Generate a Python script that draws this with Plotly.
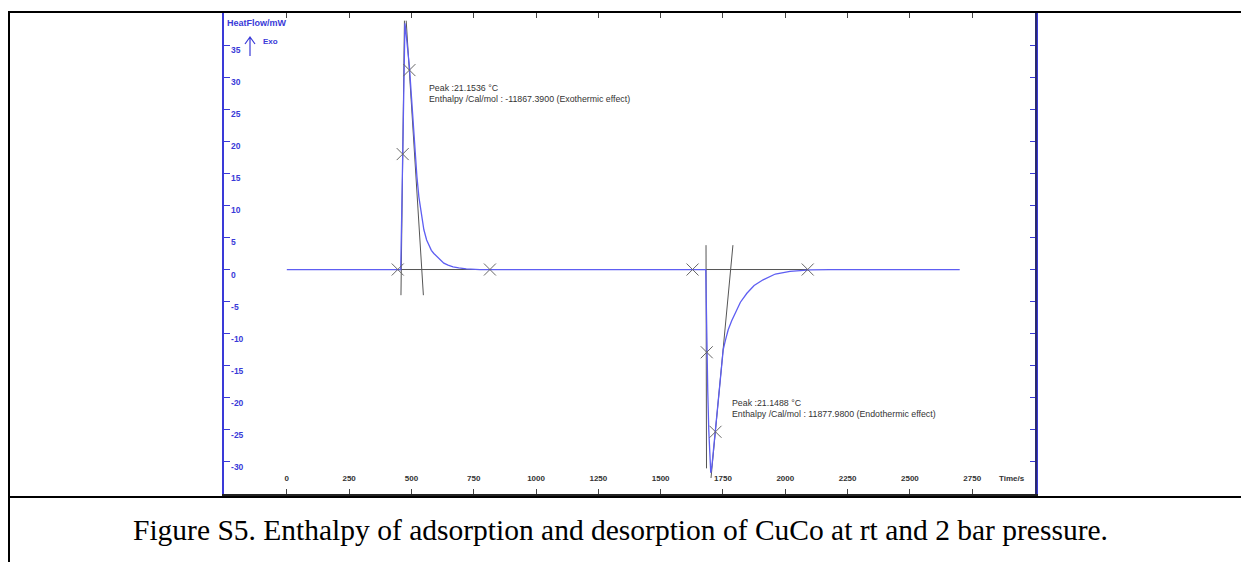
import plotly.graph_objects as go

# ---------------- data ----------------
time_s = [0, 300, 457, 461, 465, 469, 474, 478, 484, 492,
          500, 508, 515, 522, 530, 541, 550, 561, 570, 580,
          590, 602, 615, 630, 647, 667, 690, 720, 775, 1200,
          1681, 1683, 1685, 1689, 1693, 1697, 1701, 1706, 1712, 1720,
          1729, 1738, 1751, 1760, 1771, 1785, 1799, 1820, 1846, 1875,
          1911, 1960, 2019, 2100, 2180, 2700]
heatflow_mw = [0, 0, 0, 8.5, 18, 28, 38.4, 37, 34.5, 31.6,
               27, 22.2, 18, 14.5, 11.3, 8.2, 6.2, 4.6, 3.8, 3.0,
               2.5, 2.0, 1.5, 1.0, 0.7, 0.4, 0.25, 0.1, 0, 0,
               0, -5, -12.9, -19, -25, -29.5, -31.7, -30.5, -28, -24.5,
               -20.5, -17.2, -12.5, -11.0, -9.4, -8.0, -6.8, -5.1, -3.7, -2.5,
               -1.6, -0.7, -0.3, -0.05, 0, 0]

# construction (tangent / baseline) segments
exo_tan1_t, exo_tan1_v = [458, 472], [-4, 38.8]
exo_tan2_t, exo_tan2_v = [479, 548], [38.8, -4]
exo_base_t, exo_base_v = [445, 815], [0, 0]
endo_tan1_t, endo_tan1_v = [1682, 1684], [3.8, -31]
endo_tan2_t, endo_tan2_v = [1790, 1702], [3.8, -32.5]
endo_base_t, endo_base_v = [1628, 2090], [0, 0]

marker_t = [445, 465, 492, 815, 1628, 1685, 1720, 2090]
marker_v = [0, 18, 31.1, 0, 0, -12.9, -25.3, 0]

x_ticks = [0, 250, 500, 750, 1000, 1250, 1500, 1750, 2000, 2250, 2500, 2750]
y_ticks = [-30, -25, -20, -15, -10, -5, 0, 5, 10, 15, 20, 25, 30, 35]

exo_text = ["Peak :21.1536 °C", "Enthalpy /Cal/mol : -11867.3900 (Exothermic effect)"]
endo_text = ["Peak :21.1488 °C", "Enthalpy /Cal/mol : 11877.9800 (Endothermic effect)"]
caption = "Figure S5. Enthalpy of adsorption and desorption of CuCo at rt and 2 bar pressure."

# ---------------- layout geometry ----------------
W, H = 1241, 562
L, R, T, B = 224, 1036, 13, 494


def px(x):
    return (x - L) / (R - L)


def py(y):
    return (B - y) / (B - T)


BLUE = "#5e5ef2"
AXBLUE = "#3a3ad8"
GREY = "#555555"
MARK = "#666666"

fig = go.Figure()

seg_style = dict(mode="lines", line=dict(color=GREY, width=1), hoverinfo="skip", showlegend=False)
for st, sv in [(exo_tan1_t, exo_tan1_v), (exo_tan2_t, exo_tan2_v), (exo_base_t, exo_base_v),
               (endo_tan1_t, endo_tan1_v), (endo_tan2_t, endo_tan2_v), (endo_base_t, endo_base_v)]:
    fig.add_trace(go.Scatter(x=st, y=sv, **seg_style))

fig.add_trace(go.Scatter(x=time_s, y=heatflow_mw, mode="lines",
                         line=dict(color=BLUE, width=1.3), showlegend=False))

fig.add_trace(go.Scatter(x=marker_t, y=marker_v, mode="markers",
                         marker=dict(symbol="x-thin", size=12, line=dict(color=MARK, width=1)),
                         showlegend=False))

fig.update_xaxes(range=[-252, 3006], tickvals=x_ticks, ticktext=[str(v) for v in x_ticks],
                 ticks="inside", ticklen=5, tickcolor="#444444", tickwidth=1,
                 ticklabelposition="inside", ticklabelstandoff=5,
                 tickfont=dict(family="Liberation Sans", size=8, color="#333333", weight="bold"),
                 showline=True, linecolor="#222222", linewidth=1.5, mirror="ticks",
                 showgrid=False, zeroline=False)
fig.update_yaxes(range=[-35, 40], tickvals=y_ticks, ticktext=[str(v) for v in y_ticks],
                 ticks="inside", ticklen=6, tickcolor=AXBLUE, tickwidth=1,
                 ticklabelposition="inside", ticklabelshift=5,
                 tickfont=dict(family="Liberation Sans", size=8.5, color=AXBLUE, weight="bold"),
                 showline=True, linecolor=AXBLUE, linewidth=1.5, mirror="ticks",
                 showgrid=False, zeroline=False)

shapes = []
# right axis line (dark navy)
shapes.append(dict(type="line", xref="paper", yref="paper", x0=px(1036), x1=px(1036), y0=py(13), y1=py(494),
                   line=dict(color="#2a2a70", width=2)))
# outer table frame
shapes.append(dict(type="line", xref="paper", yref="paper", x0=px(8), x1=px(1245), y0=py(12), y1=py(12),
                   line=dict(color="black", width=2)))
shapes.append(dict(type="line", xref="paper", yref="paper", x0=px(9), x1=px(9), y0=py(11), y1=py(566),
                   line=dict(color="black", width=2)))
shapes.append(dict(type="line", xref="paper", yref="paper", x0=px(8), x1=px(1245), y0=py(497), y1=py(497),
                   line=dict(color="black", width=2)))
# Exo arrow
shapes.append(dict(type="path", xref="paper", yref="paper",
                   path="M {a},{b} L {a},{c} M {d},{e} L {a},{c} L {f},{e}".format(
                       a=px(250), b=py(56), c=py(37), d=px(245), e=py(44), f=px(255)),
                   line=dict(color=AXBLUE, width=1.2)))
fig.update_layout(shapes=shapes)

ann = []
ann.append(dict(xref="paper", yref="paper", x=px(225), y=py(23), text="<b>HeatFlow/mW</b>",
                showarrow=False, xanchor="left", yanchor="middle",
                font=dict(family="Liberation Sans", size=9, color=AXBLUE)))
ann.append(dict(xref="paper", yref="paper", x=px(261), y=py(41), text="<b>Exo</b>",
                showarrow=False, xanchor="left", yanchor="middle",
                font=dict(family="Liberation Sans", size=8, color=AXBLUE)))
ann.append(dict(xref="paper", yref="paper", x=px(997), y=py(478), text="<b>Time/s</b>",
                showarrow=False, xanchor="left", yanchor="middle",
                font=dict(family="Liberation Sans", size=8, color="#333333")))

for (tx, tv, lines) in [(563, 28.3, exo_text), (1778, -20.8, endo_text)]:
    for i, line in enumerate(lines):
        ann.append(dict(x=tx, y=tv - 1.75 * i, text=line, showarrow=False,
                        xanchor="left", yanchor="middle",
                        font=dict(family="Liberation Sans", size=8.8, color="#333333")))

ann.append(dict(xref="paper", yref="paper", x=px(620), y=py(530), text=caption,
                showarrow=False, xanchor="center", yanchor="middle",
                font=dict(family="Liberation Serif", size=29.5, color="black")))
fig.update_layout(annotations=ann)

fig.update_layout(width=W, height=H, margin=dict(l=L, r=W - R, t=T, b=H - B, pad=0),
                  paper_bgcolor="white", plot_bgcolor="white", showlegend=False)

fig.write_html("out.html")
